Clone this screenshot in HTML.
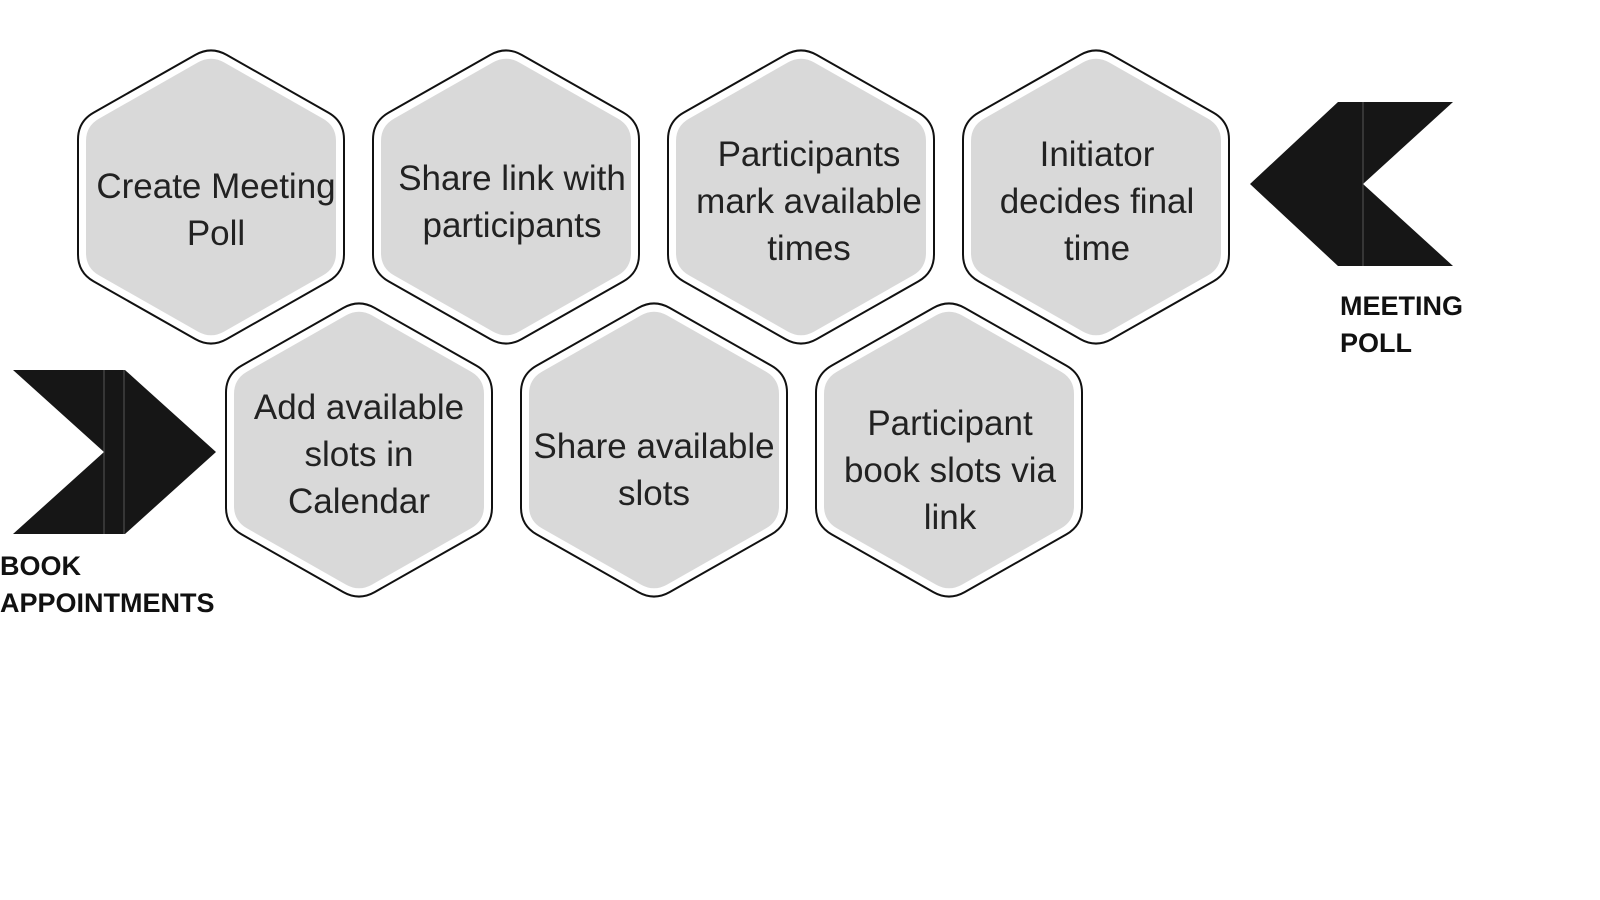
<!DOCTYPE html>
<html><head><meta charset="utf-8"><style>
html,body{margin:0;padding:0;background:#fff;width:1600px;height:900px;overflow:hidden}
svg{position:absolute;left:0;top:0}
text{font-family:"Liberation Sans","DejaVu Sans",sans-serif;fill:#222}
.t{font-size:35px;text-anchor:middle}
.b{font-size:27px;font-weight:bold;fill:#111}
</style></head><body>
<svg id="s" width="1600" height="900" xmlns="http://www.w3.org/2000/svg">
<g id="hex"></g>
<polygon points="1250,184 1338,102 1453,102 1363,184 1453,266 1338,266" fill="#161616"/>
<line x1="1363" y1="102" x2="1363" y2="266" stroke="#555" stroke-width="1"/>
<polygon points="13,370 125,370 216,452 125,534 13,534 104,452" fill="#161616"/>
<line x1="104" y1="370" x2="104" y2="534" stroke="#555" stroke-width="1"/>
<line x1="124" y1="370" x2="124" y2="534" stroke="#555" stroke-width="1"/>
<text class="b" x="1340" y="315">MEETING</text>
<text class="b" x="1340" y="352">POLL</text>
<text class="b" x="0" y="575">BOOK</text>
<text class="b" x="0" y="612">APPOINTMENTS</text>
<text class="t" x="216" y="198">Create Meeting</text><text class="t" x="216" y="245">Poll</text>
<text class="t" x="512" y="190">Share link with</text><text class="t" x="512" y="237">participants</text>
<text class="t" x="809" y="166">Participants</text><text class="t" x="809" y="213">mark available</text><text class="t" x="809" y="260">times</text>
<text class="t" x="1097" y="166">Initiator</text><text class="t" x="1097" y="213">decides final</text><text class="t" x="1097" y="260">time</text>
<text class="t" x="359" y="419">Add available</text><text class="t" x="359" y="466">slots in</text><text class="t" x="359" y="513">Calendar</text>
<text class="t" x="654" y="458">Share available</text><text class="t" x="654" y="505">slots</text>
<text class="t" x="950" y="435">Participant</text><text class="t" x="950" y="482">book slots via</text><text class="t" x="950" y="529">link</text>
</svg>
<script>
function rhex(cx,cy,w,h,r){
 var p=[[cx,cy-h],[cx+w,cy-h/2],[cx+w,cy+h/2],[cx,cy+h],[cx-w,cy+h/2],[cx-w,cy-h/2]];
 var d="";
 for(var i=0;i<6;i++){
  var a=p[(i+5)%6],b=p[i],c=p[(i+1)%6];
  var l1=Math.hypot(a[0]-b[0],a[1]-b[1]),l2=Math.hypot(c[0]-b[0],c[1]-b[1]);
  var s=[b[0]+(a[0]-b[0])*r/l1,b[1]+(a[1]-b[1])*r/l1],e=[b[0]+(c[0]-b[0])*r/l2,b[1]+(c[1]-b[1])*r/l2];
  d+=(i==0?"M":"L")+s[0]+","+s[1]+"Q"+b[0]+","+b[1]+" "+e[0]+","+e[1];
 }
 return d+"Z";
}
var cs=[[211,197],[506,197],[801,197],[1096,197],[359,450],[654,450],[949,450]];
var g=document.getElementById("hex"),h="";
cs.forEach(function(c){
 h+='<path d="'+rhex(c[0],c[1],133,151,18)+'" fill="#fff" stroke="#111" stroke-width="2"/>';
 h+='<path d="'+rhex(c[0],c[1],125,142,15)+'" fill="#d9d9d9"/>';
});
g.innerHTML=h;
</script>
</body></html>
